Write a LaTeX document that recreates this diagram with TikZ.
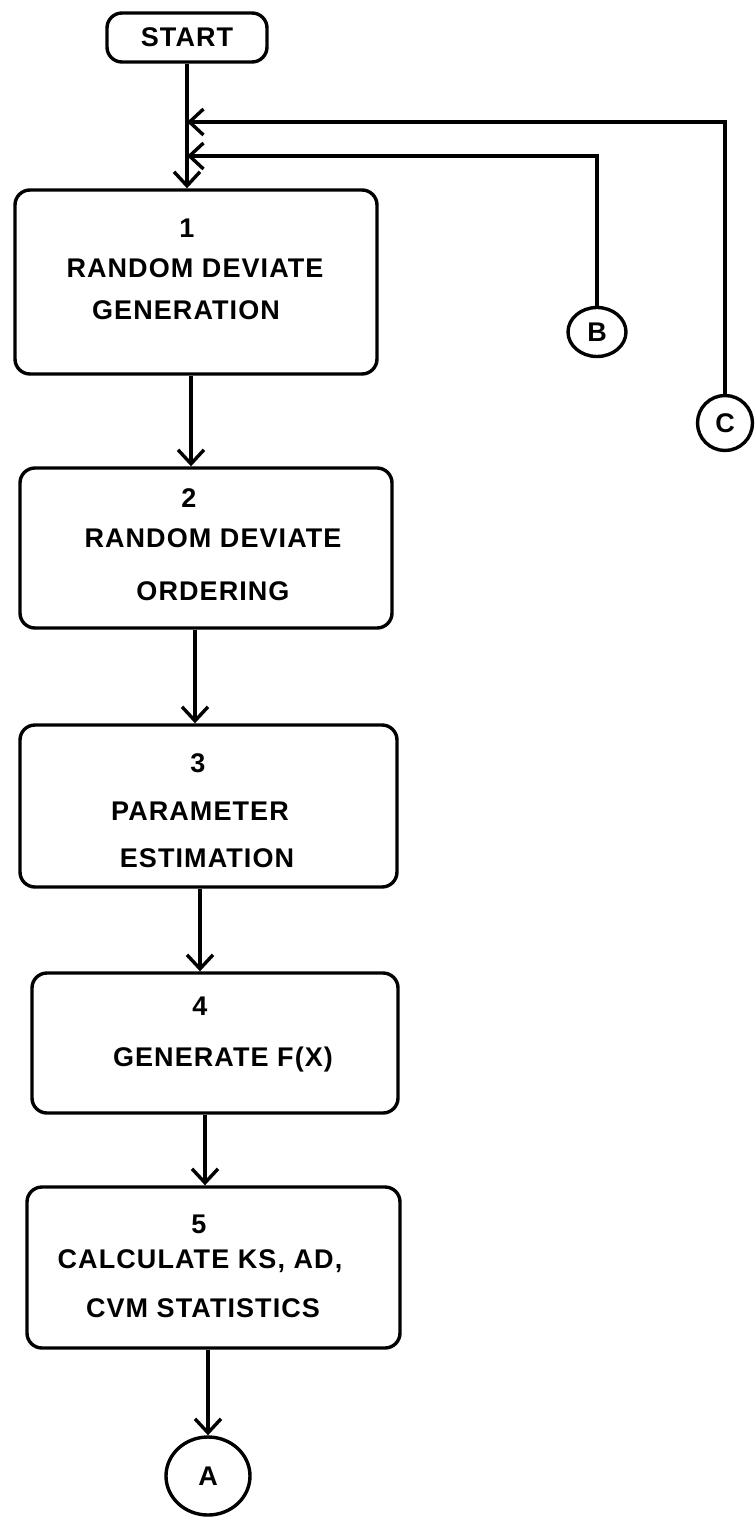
\documentclass[tikz,border=0pt]{standalone}
\usepackage{fontspec}
\setmainfont{Liberation Sans}
\newfontfamily\plotfont{Liberation Sans Bold}[LetterSpace=4]
\usetikzlibrary{arrows.meta,shapes.geometric}
\begin{document}
\begin{tikzpicture}[x=1pt,y=-1pt,
  lw/.style={line width=3.4pt},
  pfont/.style={font=\plotfont\fontsize{27}{31}\selectfont},
  stepbox/.style={draw, lw, rectangle, rounded corners=15pt, inner sep=0pt},
  conn/.style={draw, lw, ellipse, inner sep=0pt, pfont},
  lbl/.style={pfont, anchor=base, inner sep=0pt},
  arr/.style={lw, -{Straight Barb[length=14pt,width=26pt]}}
]
\useasboundingbox (0,0) rectangle (755,1522);

% terminal
\node[stepbox, pfont, minimum width=160pt, minimum height=49pt] (start) at (187,37.5) {START};

% process boxes
\node[stepbox, minimum width=362pt, minimum height=184pt] (b1) at (196,282) {};
\node[stepbox, minimum width=372pt, minimum height=160pt] (b2) at (206,548) {};
\node[stepbox, minimum width=377pt, minimum height=162pt] (b3) at (208.5,806) {};
\node[stepbox, minimum width=366pt, minimum height=140pt] (b4) at (215,1043) {};
\node[stepbox, minimum width=373pt, minimum height=161pt] (b5) at (213.5,1267.5) {};

% texts
\node[lbl] (t11) at (187,237.5) {1};
\node[lbl] (t12) at (195,277) {RANDOM DEVIATE};
\node[lbl] (t13) at (186,319) {GENERATION};

\node[lbl] (t21) at (189,507) {2};
\node[lbl] (t22) at (213,547) {RANDOM DEVIATE};
\node[lbl] (t23) at (213,600) {ORDERING};

\node[lbl] (t31) at (198,772) {3};
\node[lbl] (t32) at (200,820) {PARAMETER};
\node[lbl] (t33) at (207,867) {ESTIMATION};

\node[lbl] (t41) at (200,1015) {4};
\node[lbl] (t42) at (223,1066) {GENERATE F(X)};

\node[lbl] (t51) at (199,1233) {5};
\node[lbl] (t52) at (200,1268.5) {CALCULATE KS, AD,};
\node[lbl] (t53) at (203,1317) {CVM STATISTICS};

% connectors
\node[conn, minimum width=58pt, minimum height=49pt] (B) at (597,332) {B};
\node[conn, minimum width=55pt, minimum height=55pt] (C) at (725,423) {C};
\node[conn, minimum width=84pt, minimum height=78pt] (A) at (208,1476) {A};

% junction points
\coordinate (jc) at (187,122);
\coordinate (jb) at (187,156);
\coordinate (x12) at (191,0);
\coordinate (x23) at (195,0);
\coordinate (x34) at (200,0);
\coordinate (x45) at (205,0);

% flow lines
\draw[arr] (start.south) -- (b1.north -| start.south);
\draw[arr] (C.north) |- (jc);
\draw[arr] (B.north) |- (jb);
\draw[arr] (b1.south -| x12) -- (b2.north -| x12);
\draw[arr] (b2.south -| x23) -- (b3.north -| x23);
\draw[arr] (b3.south -| x34) -- (b4.north -| x34);
\draw[arr] (b4.south -| x45) -- (b5.north -| x45);
\draw[arr] (A.north |- b5.south) -- (A.north);
\end{tikzpicture}
\end{document}
